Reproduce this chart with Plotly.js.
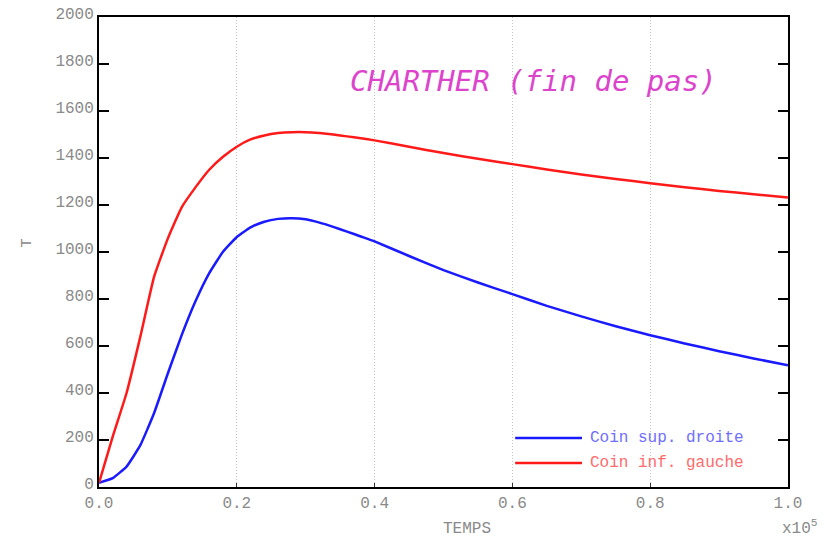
<!DOCTYPE html>
<html>
<head>
<meta charset="utf-8">
<script src="https://cdn.plot.ly/plotly-3.0.1.min.js"></script>
<style>html,body{margin:0;padding:0;background:#fff;}#chart{width:827px;height:539px;}</style>
</head>
<body>
<div id="chart"></div>
<script>
// Time (x 10^5)
const temps = [0, 0.02, 0.04, 0.06, 0.08, 0.10, 0.12, 0.14, 0.16, 0.18, 0.20, 0.22, 0.24, 0.26, 0.28, 0.30, 0.32, 0.34, 0.36, 0.38, 0.40, 0.45, 0.50, 0.55, 0.60, 0.65, 0.70, 0.75, 0.80, 0.85, 0.90, 0.95, 1.00];
// Coin sup. droite
const coinSupDroite = [18, 38, 87, 178, 315, 484, 646, 790, 910, 1001, 1064, 1105, 1129, 1141, 1144, 1139, 1125, 1107, 1087, 1066, 1045, 983, 923, 870, 821, 771, 726, 684, 646, 611, 578, 547, 518];
// Coin inf. gauche
const coinInfGauche = [18, 215, 400, 640, 895, 1058, 1190, 1275, 1350, 1405, 1448, 1479, 1496, 1506, 1510, 1510, 1506, 1500, 1492, 1484, 1475, 1448, 1421, 1397, 1374, 1351, 1330, 1311, 1293, 1276, 1260, 1246, 1232];

const xTicks = [0, 0.2, 0.4, 0.6, 0.8, 1.0];
const xTickLabels = ['0.0', '0.2', '0.4', '0.6', '0.8', '1.0'];
const yTicks = [0, 200, 400, 600, 800, 1000, 1200, 1400, 1600, 1800, 2000];

const mono = 'Liberation Mono, DejaVu Sans Mono, monospace';
const grey = '#8a8a8a';

const traces = [
  {x: temps, y: coinSupDroite, mode: 'lines', name: 'Coin sup. droite', line: {color: '#1a1aff', width: 2.5, shape: 'spline', smoothing: 0.4}},
  {x: temps, y: coinInfGauche, mode: 'lines', name: 'Coin inf. gauche', line: {color: '#ff1a1a', width: 2.5, shape: 'spline', smoothing: 0.4}}
];

const layout = {
  width: 827, height: 539,
  margin: {l: 99, r: 39, t: 17, b: 52},
  paper_bgcolor: '#fff', plot_bgcolor: '#fff',
  showlegend: false,
  font: {family: mono, size: 16, color: grey},
  xaxis: {
    range: [0, 1], tickvals: xTicks, ticktext: xTickLabels,
    showline: true, linecolor: '#000', linewidth: 2, mirror: true,
    ticks: 'inside', ticklen: 4, tickwidth: 1, tickcolor: '#333',
    showgrid: true, gridcolor: '#c4c4c4', griddash: '1px,2px', gridwidth: 1,
    zeroline: false, tickfont: {family: mono, size: 16, color: grey}
  },
  yaxis: {
    range: [0, 2000], tickvals: yTicks,
    showline: true, linecolor: '#000', linewidth: 2, mirror: 'ticks',
    ticks: 'inside', ticklen: 10, tickwidth: 2, tickcolor: '#000',
    showgrid: false, zeroline: false, ticklabelshift: -4,
    tickfont: {family: mono, size: 16, color: grey}
  },
  shapes: [
    {type: 'line', xref: 'paper', yref: 'paper', x0: 0.604, x1: 0.701, y0: 0.104, y1: 0.104, line: {color: '#1a1aff', width: 2.5}},
    {type: 'line', xref: 'paper', yref: 'paper', x0: 0.604, x1: 0.701, y0: 0.051, y1: 0.051, line: {color: '#ff1a1a', width: 2.5}}
  ],
  annotations: [
    {text: 'CHARTHER (fin de pas)', xref: 'paper', yref: 'paper', x: 0.631, y: 0.863, xanchor: 'center', yanchor: 'middle', showarrow: false,
     font: {family: 'DejaVu Sans Mono, monospace', size: 29, color: '#dd44cc', style: 'italic'}},
    {text: 'Coin sup. droite', xref: 'paper', yref: 'paper', x: 0.709, y: 0.104, xanchor: 'left', yanchor: 'middle', showarrow: false,
     font: {family: mono, size: 16, color: '#6e6eff'}},
    {text: 'Coin inf. gauche', xref: 'paper', yref: 'paper', x: 0.709, y: 0.051, xanchor: 'left', yanchor: 'middle', showarrow: false,
     font: {family: mono, size: 16, color: '#ff6a6a'}},
    {text: 'TEMPS', xref: 'paper', yref: 'paper', x: 0.534, y: -0.09, xanchor: 'center', yanchor: 'middle', showarrow: false,
     font: {family: mono, size: 16, color: grey}},
    {text: 'x10<sup>5</sup>', xref: 'paper', yref: 'paper', x: 1.047, y: -0.087, xanchor: 'right', yanchor: 'middle', showarrow: false,
     font: {family: mono, size: 16, color: grey}},
    {text: 'T', xref: 'paper', yref: 'paper', x: -0.104, y: 0.519, xanchor: 'center', yanchor: 'middle', showarrow: false, textangle: -90,
     font: {family: mono, size: 15, color: grey}}
  ]
};

Plotly.newPlot('chart', traces, layout, {displayModeBar: false, staticPlot: true});
</script>
</body>
</html>
